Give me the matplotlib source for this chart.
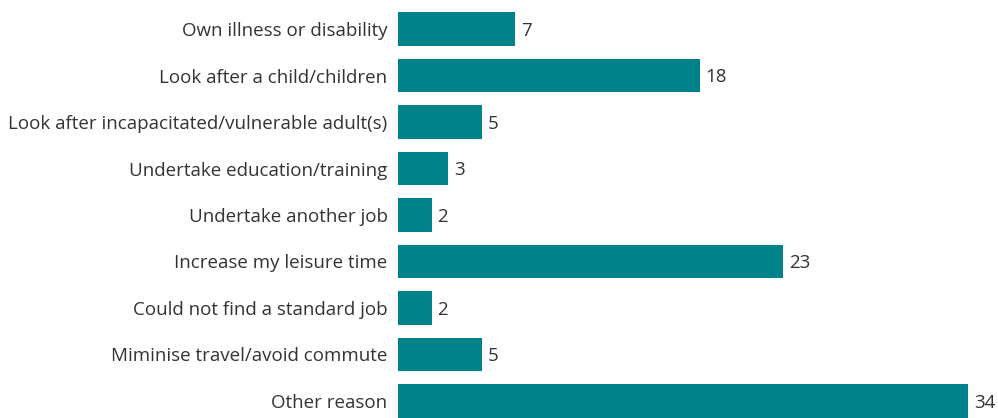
import matplotlib
matplotlib.use('Agg')
import matplotlib.pyplot as plt

reasons = [
    'Own illness or disability',
    'Look after a child/children',
    'Look after incapacitated/vulnerable adult(s)',
    'Undertake education/training',
    'Undertake another job',
    'Increase my leisure time',
    'Could not find a standard job',
    'Miminise travel/avoid commute',
    'Other reason',
]
values = [7, 18, 5, 3, 2, 23, 2, 5, 34]

plt.rcParams['font.family'] = ['Open Sans', 'DejaVu Sans']

fig = plt.figure(figsize=(9.98, 4.18), dpi=100)
ax = fig.add_axes([0.3988, 0.0, 0.6012, 1.0])

pos = list(range(len(values)))
ax.barh(pos, values, height=0.73, color='#00828A')

# value labels next to each bar
for y, v in zip(pos, values):
    ax.text(v + 0.35, y + 0.04, str(v), va='center', ha='left', fontsize=13.5, color='#333333')

ax.set_yticks(pos)
ax.set_yticklabels(reasons, fontsize=13.5, color='#333333')
ax.tick_params(axis='y', length=0, pad=7.5)
ax.set_xticks([])
ax.set_xlim(0, 35.8)
ax.set_ylim(8.366, -0.624)
for s in ax.spines.values():
    s.set_visible(False)

fig.savefig('out.png', dpi=100)
